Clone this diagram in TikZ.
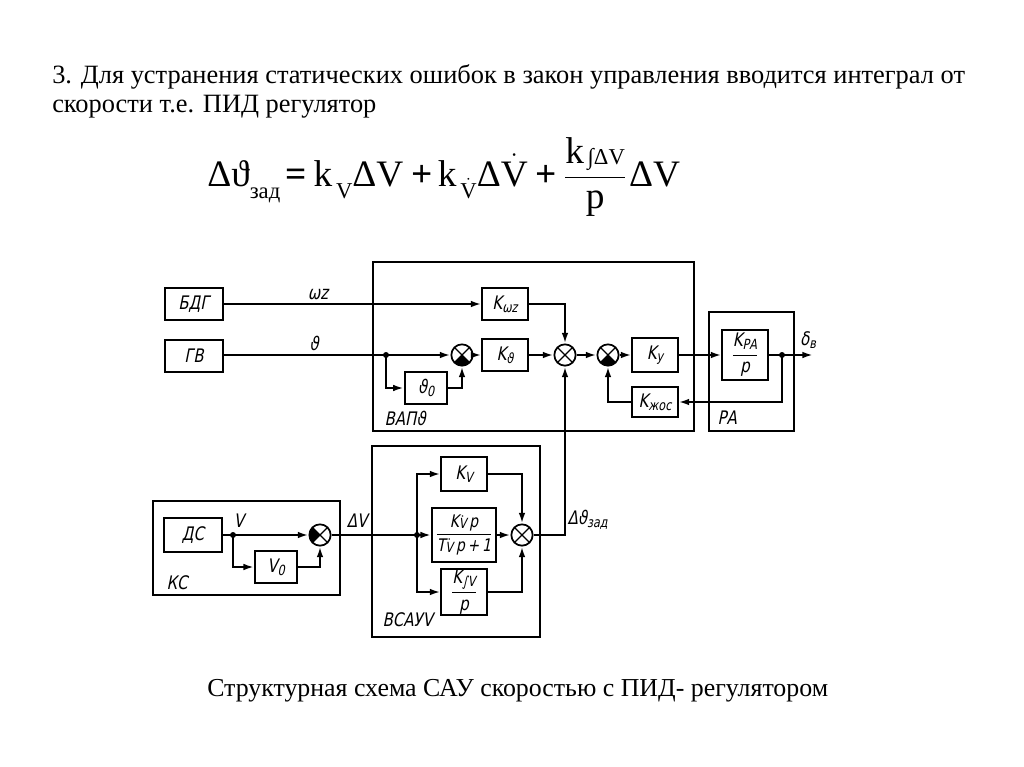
\documentclass[tikz,border=0pt]{standalone}
\usepackage{amsmath}
\usepackage{fontspec}
\usetikzlibrary{arrows.meta}
\setmainfont{Liberation Serif}
\newfontfamily\diagfont[FakeSlant=0.2,FakeStretch=0.8]{DejaVu Sans}
\newcommand{\fsub}[2][9pt]{\raisebox{-#1}{\fontsize{17}{19}\selectfont #2}}
\newcommand{\bsub}[2][2pt]{\raisebox{-#1}{\fontsize{10.5}{12}\selectfont #2}}
\tikzstyle{blk}=[draw,line width=1.3pt,minimum width=34pt,minimum height=24pt,inner sep=1pt,font={\diagfont\fontsize{14}{16}\selectfont}]
\tikzstyle{lbl}=[inner sep=1pt,font={\diagfont\fontsize{14}{16}\selectfont}]
\tikzstyle{frame}=[draw,line width=0.9pt]
\tikzstyle{sig}=[line width=1.6pt,-{Latex[length=8pt,width=5pt]}]
\tikzstyle{jdot}=[circle,fill,inner sep=0pt,minimum size=4.5pt]
\tikzstyle{sumbase}=[draw,line width=1.3pt,circle,minimum size=16pt,inner sep=0pt]
\tikzstyle{sumW}=[sumbase,path picture={
  \draw[line width=1pt] (path picture bounding box.north west) -- (path picture bounding box.south east)
    (path picture bounding box.north east) -- (path picture bounding box.south west);}]
\tikzstyle{sumB}=[sumbase,path picture={
  \fill (path picture bounding box.center) -- (path picture bounding box.south west) -- (path picture bounding box.south east) -- cycle;
  \draw[line width=1pt] (path picture bounding box.north west) -- (path picture bounding box.south east)
    (path picture bounding box.north east) -- (path picture bounding box.south west);}]
\tikzstyle{sumL}=[sumbase,path picture={
  \fill (path picture bounding box.center) -- (path picture bounding box.south west) -- (path picture bounding box.north west) -- cycle;
  \draw[line width=1pt] (path picture bounding box.north west) -- (path picture bounding box.south east)
    (path picture bounding box.north east) -- (path picture bounding box.south west);}]

\begin{document}
\begin{tikzpicture}[x=0.75pt,y=-0.75pt]
  \useasboundingbox (0,0) rectangle (1024,767);
  % text above and below the scheme
  \node[anchor=base west,inner sep=0pt,font=\fontsize{19.8}{24}\selectfont] (line1) at (52,84)
    {3. Для устранения статических ошибок в закон управления вводится интеграл от};
  \node[anchor=base west,inner sep=0pt,font=\fontsize{19.8}{24}\selectfont] (line2) at (52,113)
    {скорости т.е. ПИД регулятор};
  \node[anchor=base west,inner sep=0pt,font=\fontsize{28}{32}\selectfont] (formula) at (207,186)
    {Δϑ\fsub{зад}\hspace{4pt}\textbf{=}\hspace{5pt}k\fsub{\,V}ΔV\hspace{6pt}\textbf{+}\hspace{4pt}k\fsub{\,$\dot{\text{V}}$}Δ$\dot{\text{V}}$\hspace{6pt}\textbf{+}\hspace{5pt}%
     $\dfrac{\text{k\fsub[1pt]{\,∫ΔV}}}{\text{p}}$\hspace{2pt}ΔV};
  \node[anchor=base west,inner sep=0pt,font=\fontsize{19.4}{24}\selectfont] (caption) at (207,696)
    {Структурная схема САУ скоростью с ПИД- регулятором};

  % frames
  \draw[frame] (373,262) rectangle (694,431);
  \draw[frame] (709,312) rectangle (794,431);
  \draw[frame] (153,501) rectangle (340,595);
  \draw[frame] (372,446) rectangle (540,637);
  \node[lbl,anchor=west] (VAPlbl) at (383,418) {ВАПϑ};
  \node[lbl,anchor=west] (PAlbl) at (716,418) {РА};
  \node[lbl,anchor=west] (KClbl) at (165,583) {КС};
  \node[lbl,anchor=west] (VSAUlbl) at (381,620) {ВСАУV};

  % upper part
  \node[blk,minimum width=43.5pt] (BDG) at (194,304) {БДГ};
  \node[blk,minimum width=43.5pt] (GV) at (194,356) {ГВ};
  \node[blk] (Kwz) at (505,304) {K\bsub{ωz}};
  \node[sumB] (s1) at (462,355) {};
  \node[blk] (Kth) at (505,355) {K\bsub{ϑ}};
  \node[blk,minimum width=32pt] (th0) at (426,388) {ϑ\bsub{0}};
  \node[jdot] (j1) at (386,355) {};
  \node[sumW] (s2) at (565,355) {};
  \node[sumB] (s3) at (608,355) {};
  \node[blk,minimum height=25pt] (Ky) at (655,355) {K\bsub{у}};
  \node[blk,minimum height=38pt] (KPA) at (745,355) {$\dfrac{\text{K\bsub{РА}}}{\text{p}}$};
  \node[jdot] (j2) at (782,355) {};
  \coordinate (out) at (813,355);
  \node[blk,minimum height=22pt] (Kjos) at (655,402) {K\bsub{жос}};
  \node[lbl] (wzlbl) at (318,295) {ωz};
  \node[lbl] (thlbl) at (314,343) {ϑ};
  \node[lbl] (dvlbl) at (808,340) {δ\bsub{в}};

  \draw[sig] (BDG.east) -- (Kwz.west);
  \draw[sig] (GV.east |- s1) -- (s1.west);
  \draw[sig] (s1) -- (Kth);
  \draw[sig] (Kth) -- (s2);
  \draw[sig] (Kwz.east) -| (s2.north);
  \draw[sig] (j1.center) |- (th0.west);
  \draw[sig] (th0.east) -| (s1.south);
  \draw[sig] (s2) -- (s3);
  \draw[sig] (s3) -- (Ky);
  \draw[sig] (Ky) -- (KPA);
  \draw[sig] (KPA.east) -- (out);
  \draw[sig] (j2.center) |- (Kjos.east);
  \draw[sig] (Kjos.west) -| (s3.south);

  % lower part
  \node[blk,minimum width=43.5pt,minimum height=25.5pt] (DS) at (193,535) {ДС};
  \node[jdot] (j3) at (233,535) {};
  \node[blk,minimum width=31.5pt] (V0) at (276,567) {V\bsub{0}};
  \node[sumL] (s4) at (320,535) {};
  \node[jdot] (j4) at (417,535) {};
  \node[blk,minimum height=25pt] (KV) at (464,474) {K\bsub{V}};
  \node[blk,minimum width=48pt,minimum height=40pt,inner sep=0pt,font={\diagfont\fontsize{13}{15}\selectfont}] (KVd) at (464,535)
    {$\dfrac{\text{K\bsub[1pt]{$\dot{\text{V}}$}\,p}}{\rule{0pt}{11pt}\text{T\bsub[1pt]{$\dot{\text{V}}$}\,p\,+\,1}}$};
  \node[blk,minimum height=31.5pt] (KIV) at (464,592) {$\dfrac{\text{K\bsub{∫V}}}{\text{p}}$};
  \node[sumW] (s5) at (522,535) {};
  \node[lbl] (Vlbl) at (239,521) {V};
  \node[lbl] (DVlbl) at (357,521) {ΔV};
  \node[lbl,anchor=west] (DTlbl) at (566,520) {Δϑ\bsub{зад}};

  \draw[sig] (DS.east) -- (s4.west);
  \draw[sig] (j3.center) |- (V0.west);
  \draw[sig] (V0.east) -| (s4.south);
  \draw[sig] (s4) -- (KVd);
  \draw[sig] (j4.center) |- (KV.west);
  \draw[sig] (j4.center) |- (KIV.west);
  \draw[sig] (KV.east) -| (s5.north);
  \draw[sig] (KIV.east) -| (s5.south);
  \draw[sig] (KVd) -- (s5);
  \draw[sig] (s5.east) -| (s2.south);
\end{tikzpicture}
\end{document}
